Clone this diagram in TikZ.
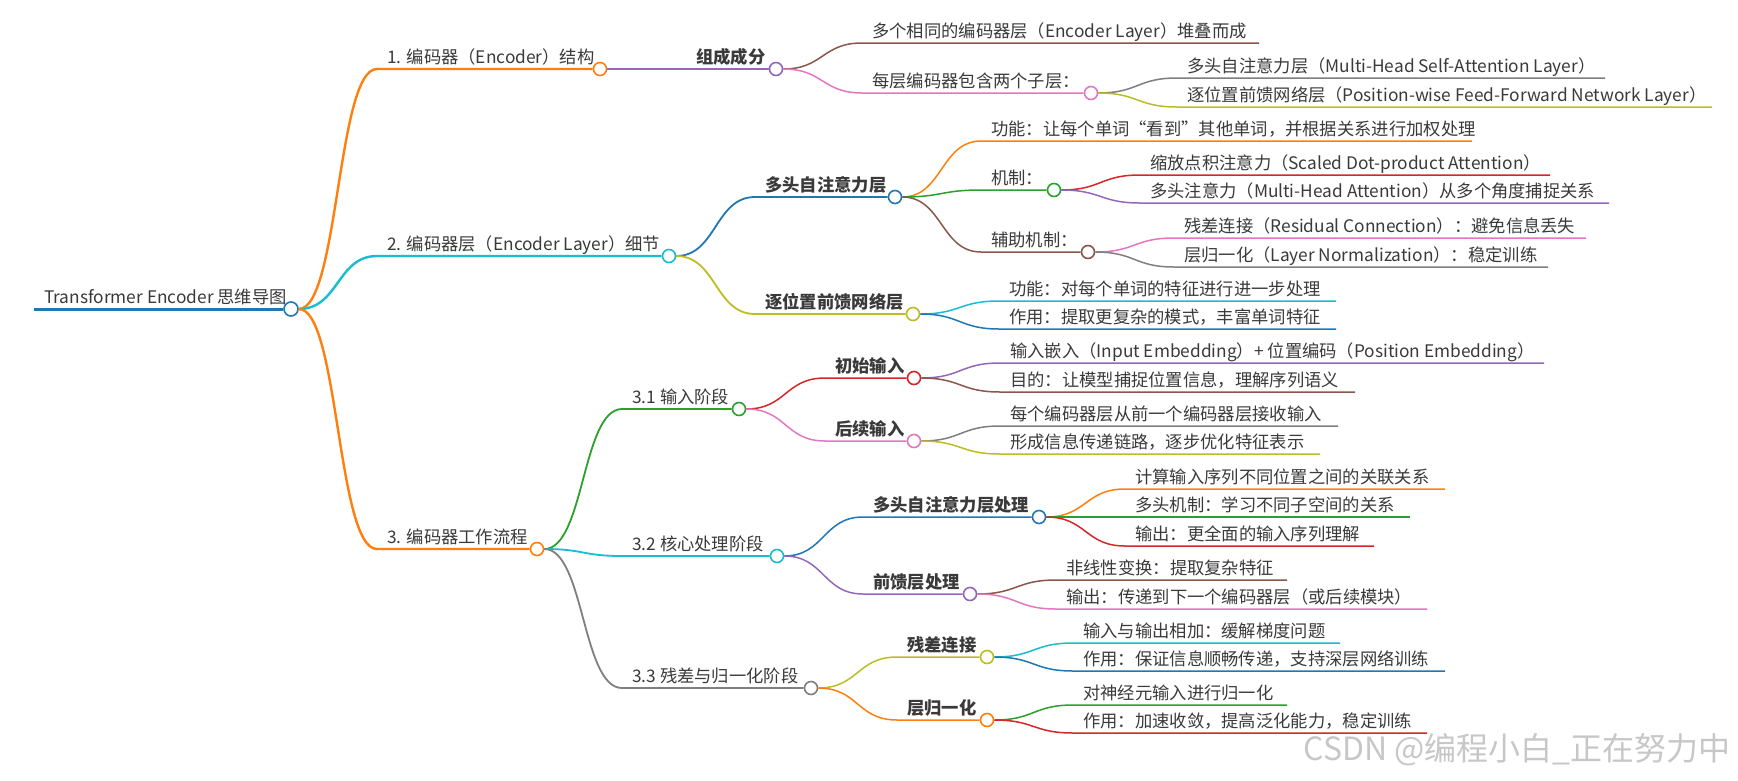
\documentclass[tikz,border=0pt]{standalone}
\usepackage{fontspec}
\setmainfont{Noto Sans CJK SC}
\definecolor{tBlue}{HTML}{1F77B4}
\definecolor{tOrange}{HTML}{FF7F0E}
\definecolor{tGreen}{HTML}{2CA02C}
\definecolor{tRed}{HTML}{D62728}
\definecolor{tPurple}{HTML}{9467BD}
\definecolor{tBrown}{HTML}{8C564B}
\definecolor{tPink}{HTML}{E377C2}
\definecolor{tGray}{HTML}{7F7F7F}
\definecolor{tOlive}{HTML}{BCBD22}
\definecolor{tCyan}{HTML}{17BECF}
\definecolor{lbltext}{HTML}{3A3A3A}
\tikzset{
  lbl/.style={inner sep=0pt, anchor=base west, text=lbltext, font=\fontsize{17.3}{20}\selectfont},
  dot/.style={circle, fill=white, line width=1.6pt, minimum size=13pt, inner sep=0pt},
}
% name, parent, xs, y, xe, color, width, text
\newcommand{\mmnode}[8]{%
  \coordinate (s#1) at (#3,#4);
  \node[lbl] (t#1) at (#3+10,#4-6) {#8};
  \node[dot, draw=#6] (c#1) at (#5,#4) {};
  \draw[draw=#6, line width=#7] (c#2.east) .. controls +(40,0) and +(-40,0) .. (s#1) -- (c#1.west);
}
\newcommand{\mmleaf}[8]{%
  \coordinate (s#1) at (#3,#4);
  \coordinate (e#1) at (#5,#4);
  \node[lbl] (t#1) at (#3+10,#4-6) {#8};
  \draw[draw=#6, line width=#7] (c#2.east) .. controls +(40,0) and +(-40,0) .. (s#1) -- (e#1);
}
\begin{document}
\begin{tikzpicture}[x=1pt, y=-1pt]
\path[fill=white, use as bounding box] (0,0) rectangle (1738,780);
% root
\coordinate (s0) at (34,309);
\node[lbl] (t0) at (44,303) {Transformer Encoder 思维导图};
\node[dot, draw=tBlue, minimum size=14pt] (c0) at (291,309) {};
\draw[draw=tBlue, line width=3pt] (s0) -- (c0.west);
% branch 1
\mmnode{1}{0}{377}{69}{600}{tOrange}{2.4pt}{1. 编码器（Encoder）结构}
\mmnode{11}{1}{686}{69}{776}{tPurple}{1.8pt}{\bfseries 组成成分}
\mmleaf{111}{11}{862}{43}{1259}{tBrown}{1.5pt}{多个相同的编码器层（Encoder Layer）堆叠而成}
\mmnode{112}{11}{862}{93}{1091}{tPink}{1.5pt}{每层编码器包含两个子层：}
\mmleaf{1121}{112}{1177}{78}{1605}{tGray}{1.5pt}{多头自注意力层（Multi-Head Self-Attention Layer）}
\mmleaf{1122}{112}{1177}{107}{1712}{tOlive}{1.5pt}{逐位置前馈网络层（Position-wise Feed-Forward Network Layer）}
% branch 2
\mmnode{2}{0}{377}{256}{669}{tCyan}{2.4pt}{2. 编码器层（Encoder Layer）细节}
\mmnode{21}{2}{755}{197}{895}{tBlue}{1.8pt}{\bfseries 多头自注意力层}
\mmleaf{211}{21}{981}{141}{1472}{tOrange}{1.5pt}{功能：让每个单词“看到”其他单词，并根据关系进行加权处理}
\mmnode{212}{21}{981}{190}{1054}{tGreen}{1.5pt}{机制：}
\mmleaf{2121}{212}{1140}{175}{1550}{tRed}{1.5pt}{缩放点积注意力（Scaled Dot-product Attention）}
\mmleaf{2122}{212}{1140}{203}{1609}{tPurple}{1.5pt}{多头注意力（Multi-Head Attention）从多个角度捕捉关系}
\mmnode{213}{21}{981}{252}{1088}{tBrown}{1.5pt}{辅助机制：}
\mmleaf{2131}{213}{1174}{238}{1586}{tPink}{1.5pt}{残差连接（Residual Connection）：避免信息丢失}
\mmleaf{2132}{213}{1174}{267}{1548}{tGray}{1.5pt}{层归一化（Layer Normalization）：稳定训练}
\mmnode{22}{2}{755}{314}{913}{tOlive}{1.8pt}{\bfseries 逐位置前馈网络层}
\mmleaf{221}{22}{999}{301}{1336}{tCyan}{1.5pt}{功能：对每个单词的特征进行进一步处理}
\mmleaf{222}{22}{999}{329}{1336}{tBlue}{1.5pt}{作用：提取更复杂的模式，丰富单词特征}
% branch 3
\mmnode{3}{0}{377}{549}{537}{tOrange}{2.4pt}{3. 编码器工作流程}
\mmnode{31}{3}{622}{409}{739}{tGreen}{1.8pt}{3.1 输入阶段}
\mmnode{311}{31}{825}{378}{914}{tRed}{1.5pt}{\bfseries 初始输入}
\mmleaf{3111}{311}{1000}{363}{1544}{tPurple}{1.5pt}{输入嵌入（Input Embedding）+ 位置编码（Position Embedding）}
\mmleaf{3112}{311}{1000}{392}{1355}{tBrown}{1.5pt}{目的：让模型捕捉位置信息，理解序列语义}
\mmnode{312}{31}{825}{441}{914}{tPink}{1.5pt}{\bfseries 后续输入}
\mmleaf{3121}{312}{1000}{426}{1338}{tGray}{1.5pt}{每个编码器层从前一个编码器层接收输入}
\mmleaf{3122}{312}{1000}{454}{1320}{tOlive}{1.5pt}{形成信息传递链路，逐步优化特征表示}
\mmnode{32}{3}{622}{556}{777}{tCyan}{1.8pt}{3.2 核心处理阶段}
\mmnode{321}{32}{863}{517}{1039}{tBlue}{1.5pt}{\bfseries 多头自注意力层处理}
\mmleaf{3211}{321}{1125}{489}{1445}{tOrange}{1.5pt}{计算输入序列不同位置之间的关联关系}
\mmleaf{3212}{321}{1125}{517}{1410}{tGreen}{1.5pt}{多头机制：学习不同子空间的关系}
\mmleaf{3213}{321}{1125}{546}{1374}{tRed}{1.5pt}{输出：更全面的输入序列理解}
\mmnode{322}{32}{863}{594}{970}{tPurple}{1.5pt}{\bfseries 前馈层处理}
\mmleaf{3221}{322}{1056}{580}{1287}{tBrown}{1.5pt}{非线性变换：提取复杂特征}
\mmleaf{3222}{322}{1056}{609}{1427}{tPink}{1.5pt}{输出：传递到下一个编码器层（或后续模块）}
\mmnode{33}{3}{622}{688}{811}{tGray}{1.8pt}{3.3 残差与归一化阶段}
\mmnode{331}{33}{897}{657}{987}{tOlive}{1.5pt}{\bfseries 残差连接}
\mmleaf{3311}{331}{1073}{643}{1340}{tCyan}{1.5pt}{输入与输出相加：缓解梯度问题}
\mmleaf{3312}{331}{1073}{671}{1445}{tBlue}{1.5pt}{作用：保证信息顺畅传递，支持深层网络训练}
\mmnode{332}{33}{897}{720}{987}{tOrange}{1.5pt}{\bfseries 层归一化}
\mmleaf{3321}{332}{1073}{705}{1287}{tGreen}{1.5pt}{对神经元输入进行归一化}
\mmleaf{3322}{332}{1073}{733}{1427}{tRed}{1.5pt}{作用：加速收敛，提高泛化能力，稳定训练}
% watermark
\node[inner sep=0pt, anchor=east, text=black!22, font=\fontsize{32}{34}\selectfont] (wm) at (1731,750) {CSDN @编程小白\_正在努力中};
\end{tikzpicture}
\end{document}
